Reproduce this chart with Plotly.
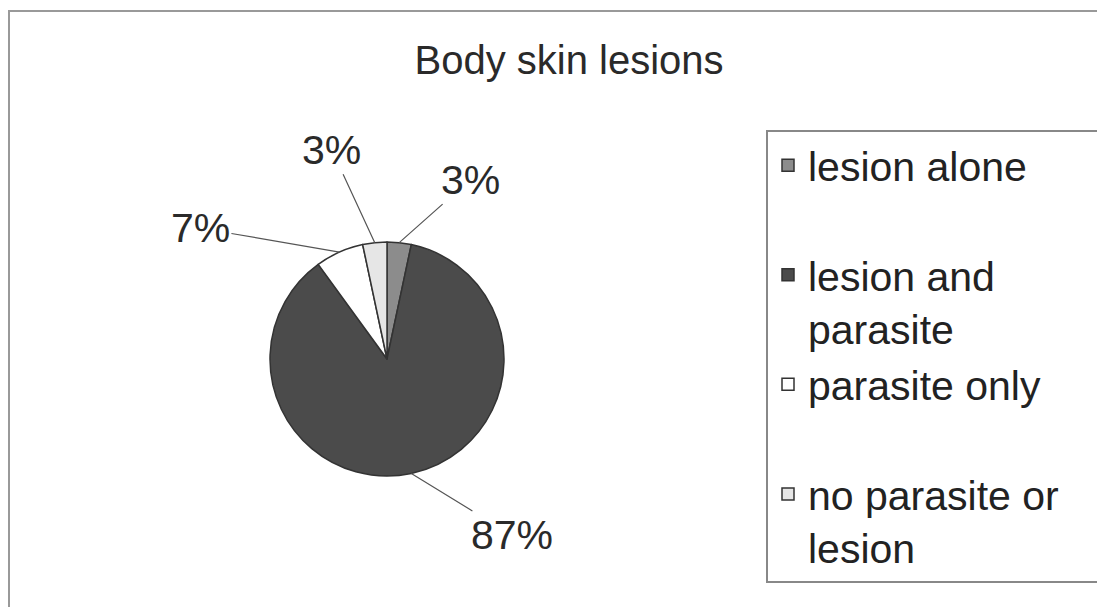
import math

import plotly.graph_objects as go

# data: counts per category (shown as rounded percentages)
labels = ["lesion alone", "lesion and parasite", "parasite only", "no parasite or lesion"]
legend_text = ["lesion alone<br>\u00a0", "lesion and<br>parasite", "parasite only<br>\u00a0",
               "no parasite or\u00a0\u00a0\u00a0<br>lesion"]
counts = [1, 26, 2, 1]

# styling
colors = ["#8c8c8c", "#4b4b4b", "#ffffff", "#e6e6e6"]
label_offsets = [(71, -63), (101, 62), (-139, -24), (-43, -93)]  # px from slice edge to text
FONT = "Liberation Sans, Arial, sans-serif"
W, H = 1105, 607
OFF = 8  # page body margin shifts the figure by this many px
CX, CY, R = 387 - OFF, 359 - OFF, 117  # pie centre / radius in px

fig = go.Figure(
    go.Pie(
        labels=legend_text,
        values=counts,
        sort=False,
        direction="clockwise",
        rotation=0,
        textinfo="none",
        hoverinfo="label+percent",
        marker=dict(colors=colors, line=dict(color="#333333", width=1.5)),
        domain=dict(x=[(CX - R) / W, (CX + R) / W], y=[(H - CY - R) / H, (H - CY + R) / H]),
    )
)

# percentage labels with leader lines, anchored at slice mid-angles
total = sum(counts)
cum = 0
for val, (ox, oy) in zip(counts, label_offsets):
    mid = (cum + val / 2) / total * 2 * math.pi
    cum += val
    px = CX + R * math.sin(mid)
    py = CY - R * math.cos(mid)
    fig.add_annotation(
        x=px / W, y=1 - py / H, xref="paper", yref="paper",
        text=f"{val / total:.0%}",
        showarrow=True, arrowhead=0, arrowwidth=1.2, arrowcolor="#555555",
        ax=ox, ay=oy,
        font=dict(family=FONT, size=41, color="#2a2a2a"),
    )

# outer chart frame
fig.add_shape(type="rect", xref="paper", yref="paper",
              x0=(9 - OFF) / W, x1=(1099 - OFF) / W, y0=-0.05, y1=1 - (11 - OFF) / H,
              line=dict(color="#999999", width=2))

fig.update_layout(
    width=W, height=H,
    margin=dict(l=0, r=0, t=0, b=0),
    paper_bgcolor="white",
    plot_bgcolor="white",
    title=dict(text="Body skin lesions", x=(569 - OFF) / W, xanchor="center",
               y=1 - (60 - OFF) / H, yanchor="middle",
               font=dict(family=FONT, size=40, color="#2a2a2a")),
    showlegend=True,
    legend=dict(
        x=(766 - OFF) / W, y=1 - (130 - OFF) / H, xanchor="left", yanchor="top",
        bordercolor="#888888", borderwidth=2, bgcolor="white",
        font=dict(family=FONT, size=41, color="#222222"),
        valign="top",
    ),
)

fig.write_html("out.html")
